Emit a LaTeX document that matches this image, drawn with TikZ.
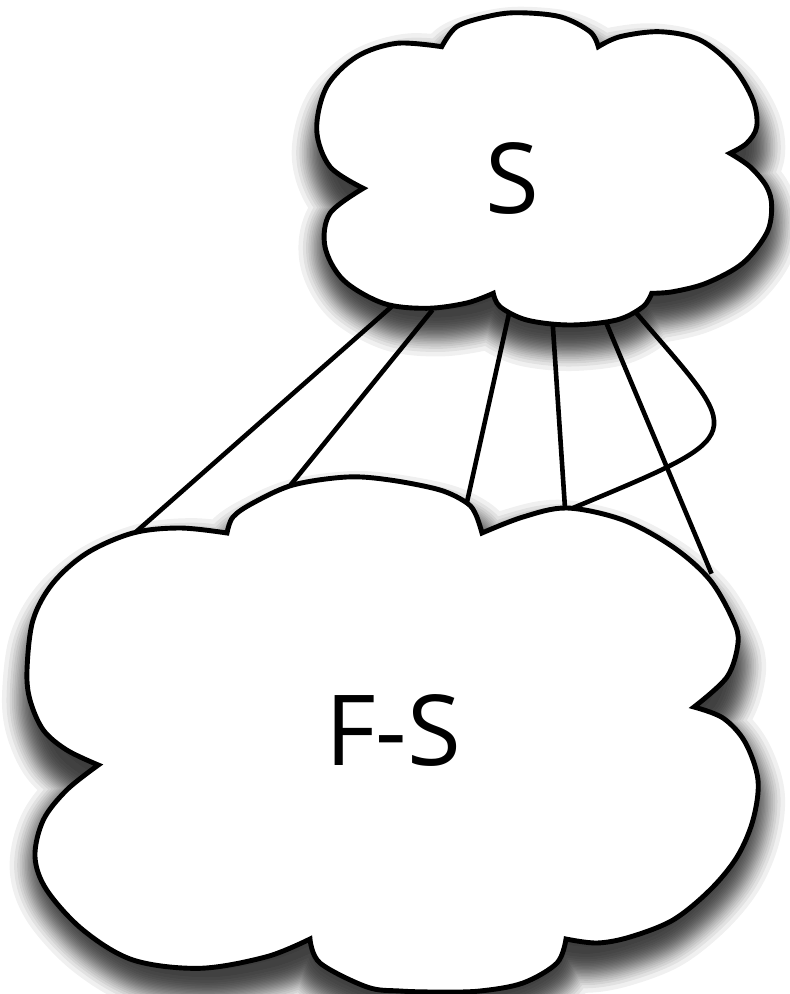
\documentclass[tikz,border=0pt]{standalone}
\usepackage{fontspec}
\newfontfamily\labelfont{Open Sans}
\begin{document}
\begin{tikzpicture}[x=1pt,y=-1pt,
  cloudline/.style={draw=black,fill=white,line width=4.9pt},
  link/.style={draw=black,line width=4.6pt,shorten <=-4pt,shorten >=-4pt},
  label/.style={font=\labelfont\fontsize{98}{98}\selectfont,inner sep=0pt}]
\fill[white] (0,0) rectangle (790,994);
\useasboundingbox (0,0) rectangle (790,994);

% outline of the upper cloud, one smooth arc per bump
\def\cloudS{plot[smooth,tension=0.55] coordinates {(441.7,46.7) (456.7,26.7) (486.7,16.7) (516.7,12.7) (560,16.7) (590,31.7) (598.3,46.7)}
 -- plot[smooth,tension=0.55] coordinates {(598.3,46.7) (620,36.7) (660,31.7) (700,40) (733,66.7) (753,100) (756.7,126.7) (746.7,143.3) (730,153.3)}
 -- plot[smooth,tension=0.55] coordinates {(730,153.3) (750,166.7) (766.7,186.7) (771.7,206.7) (766.7,233) (743,263) (706.7,283) (673,291.7) (651.7,293.3)}
 -- plot[smooth,tension=0.55] coordinates {(651.7,293.3) (643,306.7) (616.7,320) (570,325) (526.7,320) (500,306.7) (493.3,293.3)}
 -- plot[smooth,tension=0.55] coordinates {(493.3,293.3) (466.7,303) (426.7,308.3) (383.3,303.3) (343.3,280) (325,246.7) (330,213.3) (363.3,188.3)}
 -- plot[smooth,tension=0.55] coordinates {(363.3,188.3) (330,166.7) (316.7,130) (326.7,86.7) (356.7,56.7) (396.7,43.3) (441.7,46.7)}
 -- cycle}

% outline of the lower cloud
\def\cloudFS{plot[smooth,tension=0.55] coordinates {(227,533) (233,517) (253,503) (293,485) (347,477) (390,480) (440,490) (467,503) (476,515) (482,533)}
 -- plot[smooth,tension=0.55] coordinates {(482,533) (523,517) (567,508) (623,520) (673,547) (710,580) (733,620) (738,643) (727,677) (694,707)}
 -- plot[smooth,tension=0.55] coordinates {(694,707) (723,718) (745,742) (758,780) (753,820) (737,857) (710,890) (673,920) (630,937) (597,943) (566,939)}
 -- plot[smooth,tension=0.55] coordinates {(566,939) (557,963) (523,983) (480,991) (438,992) (400,991) (367,987) (320,963) (310,939)}
 -- plot[smooth,tension=0.55] coordinates {(310,939) (266.7,956.7) (200,968.3) (133,960) (83,930) (46.7,890) (35,856.7) (43.3,820) (66.7,790) (98.3,765)}
 -- plot[smooth,tension=0.55] coordinates {(98.3,765) (66.7,750) (43.3,730) (30,700) (27,670) (33,620) (53,583) (87,553) (133,533) (180,528) (227,533)}
 -- cycle}

% soft drop shadow: a shrunken core plus faint strokes of growing width,
% spaced so that the stacked opacity falls off like a gaussian blur
\newcommand\softshadow[1]{%
  \fill[black,opacity=0.06] #1;
  \foreach \r in {7.1,10.3,12.7,14.6,16.4,17.9,19.4,20.8,22.2,23.5,24.9,
                  26.2,27.6,29.1,30.6,32.2,34.0,36.1,38.4,41.5,46.0}{
    \pgfmathsetmacro\lw{2*\r}
    \path[draw=black,draw opacity=0.06,line width=\lw pt,line join=round] #1;
  }}
\begin{scope}[shift={(1,20)}]
  \begin{scope}[shift={(544,169)},xscale=0.912,yscale=0.872,shift={(-544,-169)}]
    \softshadow{\cloudS}
  \end{scope}
  \begin{scope}[shift={(392,735)},xscale=0.945,yscale=0.922,shift={(-392,-735)}]
    \softshadow{\cloudFS}
  \end{scope}
\end{scope}

% end points of the connectors on the two clouds
\coordinate (s1) at (390,308);   \coordinate (f1) at (137,531);
\coordinate (s2) at (430,313);   \coordinate (f2) at (293,482);
\coordinate (s3) at (508,318);   \coordinate (f3) at (467,502);
\coordinate (s4) at (553,328);   \coordinate (f4) at (565,508);
\coordinate (s5) at (608,327);   \coordinate (f5) at (710,570);
\coordinate (s6) at (638,315);   \coordinate (f6) at (573,508);

\draw[link] (s1) -- (f1);
\draw[link] (s2) -- (f2);
\draw[link] (s3) -- (f3);
\draw[link] (s4) -- (f4);
\draw[link] (s5) -- (f5);
\draw[link] (s6) .. controls (745,440) and (755,432) .. (f6);

% the clouds themselves
\path[cloudline] \cloudS;
\path[cloudline] \cloudFS;

\node[label] (S) at (512,178) {S};
\node[label] (FS) at (393,730) {F-S};
\end{tikzpicture}
\end{document}
